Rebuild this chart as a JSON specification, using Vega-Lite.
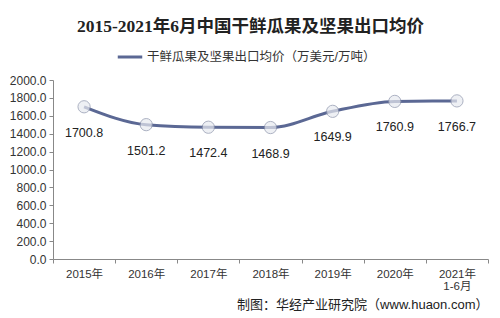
{
  "$schema": "https://vega.github.io/schema/vega-lite/v6.json",
  "autosize": "none",
  "width": 435,
  "height": 179,
  "padding": {"left": 53, "top": 80, "right": 12, "bottom": 59},
  "background": "white",
  "config": {
    "view": {"stroke": null},
    "font": "Liberation Sans, Noto Sans CJK SC",
    "axis": {"grid": false}
  },
  "title": {
    "text": "2015-2021年6月中国干鲜瓜果及坚果出口均价",
    "font": "Liberation Serif, Noto Sans CJK SC",
    "fontSize": 17.5,
    "fontWeight": "bold",
    "color": "#222",
    "anchor": "middle",
    "dx": -20,
    "offset": 8
  },
  "data": {
    "values": [
      {"year": "2015年", "value": 1700.8, "series": "干鲜瓜果及坚果出口均价（万美元/万吨）"},
      {"year": "2016年", "value": 1501.2, "series": "干鲜瓜果及坚果出口均价（万美元/万吨）"},
      {"year": "2017年", "value": 1472.4, "series": "干鲜瓜果及坚果出口均价（万美元/万吨）"},
      {"year": "2018年", "value": 1468.9, "series": "干鲜瓜果及坚果出口均价（万美元/万吨）"},
      {"year": "2019年", "value": 1649.9, "series": "干鲜瓜果及坚果出口均价（万美元/万吨）"},
      {"year": "2020年", "value": 1760.9, "series": "干鲜瓜果及坚果出口均价（万美元/万吨）"},
      {"year": "2021年\n1-6月", "value": 1766.7, "series": "干鲜瓜果及坚果出口均价（万美元/万吨）"}
    ]
  },
  "encoding": {
    "x": {
      "field": "year",
      "type": "nominal",
      "sort": null,
      "scale": {"type": "band", "paddingInner": 0, "paddingOuter": 0},
      "axis": {
        "title": "制图：华经产业研究院（www.huaon.com）",
        "titleAnchor": "end",
        "titleFontSize": 13,
        "titleFontWeight": "normal",
        "titleColor": "#222",
        "titlePadding": 7,
        "labelAngle": 0,
        "labelFontSize": 11.5,
        "labelColor": "#333",
        "labelExpr": "split(datum.label, '\\n')",
        "labelLineHeight": 12,
        "tickBand": "extent",
        "tickSize": 4,
        "tickColor": "#888",
        "domainColor": "#888",
        "labelPadding": 5
      }
    },
    "y": {
      "field": "value",
      "type": "quantitative",
      "scale": {"domain": [0, 2000], "nice": false},
      "axis": {
        "title": null,
        "values": [0, 200, 400, 600, 800, 1000, 1200, 1400, 1600, 1800, 2000],
        "format": ".1f",
        "labelFontSize": 12,
        "labelColor": "#333",
        "tickSize": 4,
        "tickColor": "#888",
        "domainColor": "#888",
        "labelPadding": 3
      }
    }
  },
  "layer": [
    {
      "mark": {"type": "line", "interpolate": "monotone", "strokeWidth": 3},
      "encoding": {
        "color": {
          "field": "series",
          "type": "nominal",
          "scale": {"range": ["#5B6894"]},
          "legend": {
            "title": null,
            "orient": "none",
            "legendX": 63,
            "legendY": -37,
            "direction": "horizontal",
            "symbolType": "stroke",
            "symbolSize": 600,
            "symbolStrokeWidth": 3,
            "labelFontSize": 12.5,
            "labelColor": "#333",
            "labelLimit": 0,
            "labelOffset": 3
          }
        }
      }
    },
    {
      "mark": {"type": "point", "shape": "circle", "filled": true, "size": 150, "fill": "#e8eaf0", "stroke": "#8a92aa", "strokeWidth": 1},
      "encoding": {}
    },
    {
      "mark": {"type": "text", "dy": 26, "fontSize": 12.5, "color": "#222"},
      "encoding": {"text": {"field": "value", "type": "quantitative", "format": ".1f"}}
    }
  ]
}
